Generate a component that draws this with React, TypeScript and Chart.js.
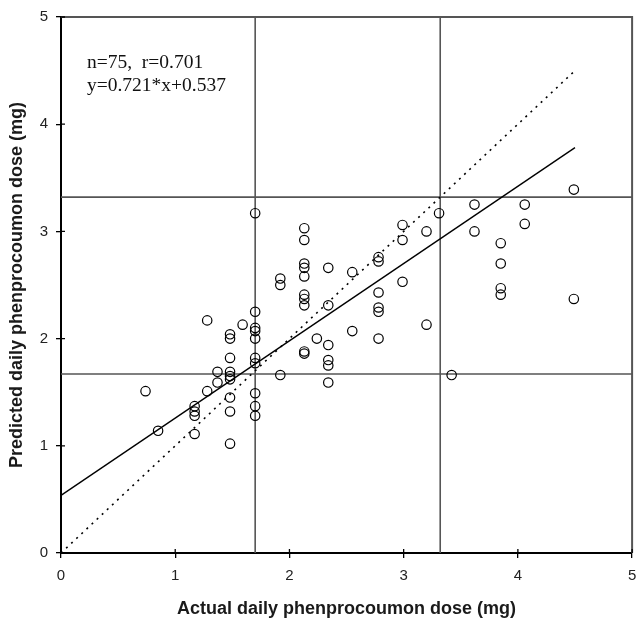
import React, { useEffect, useRef } from "react";
import { Chart, registerables } from "chart.js";

Chart.register(...registerables);

const actualDose = [
  0.74, 0.85,
  1.17, 1.17, 1.17, 1.17,
  1.28, 1.28,
  1.37, 1.37,
  1.48, 1.48, 1.48, 1.48, 1.48, 1.48, 1.48, 1.48, 1.48,
  1.59,
  1.70, 1.70, 1.70, 1.70, 1.70, 1.70, 1.70, 1.70, 1.70, 1.70,
  1.92, 1.92, 1.92,
  2.13, 2.13, 2.13, 2.13, 2.13, 2.13, 2.13, 2.13, 2.13, 2.13,
  2.24,
  2.34, 2.34, 2.34, 2.34, 2.34, 2.34,
  2.55, 2.55,
  2.78, 2.78, 2.78, 2.78, 2.78, 2.78,
  2.99, 2.99, 2.99,
  3.20, 3.20,
  3.31,
  3.42,
  3.62, 3.62,
  3.85, 3.85, 3.85, 3.85,
  4.06, 4.06,
  4.49, 4.49,
];
const predictedDose = [
  1.51, 1.14,
  1.37, 1.32, 1.28, 1.11,
  2.17, 1.51,
  1.69, 1.59,
  2.04, 2.0, 1.82, 1.69, 1.65, 1.62, 1.45, 1.32, 1.02,
  2.13,
  3.17, 2.25, 2.1, 2.07, 2.0, 1.82, 1.77, 1.49, 1.37, 1.28,
  2.56, 2.5, 1.66,
  3.03, 2.92, 2.7, 2.66, 2.58, 2.41, 2.37, 2.31, 1.88, 1.86,
  2.0,
  2.66, 2.31, 1.94, 1.8, 1.75, 1.59,
  2.62, 2.07,
  2.76, 2.72, 2.43, 2.29, 2.25, 2.0,
  3.06, 2.92, 2.53,
  3.0, 2.13,
  3.17,
  1.66,
  3.25, 3.0,
  2.89, 2.7, 2.47, 2.41,
  3.25, 3.07,
  3.39, 2.37,
];

// Regression and identity lines
const regSlope = 0.721;
const regIntercept = 0.537;
const lineRange = [0, 4.5];

// Cut-off lines
const verticalCutoffs = [1.7, 3.32];
const horizontalCutoffs = [1.67, 3.32];
const axisRange = [0, 5];

const tickValues = [0, 1, 2, 3, 4, 5];

const annotationLines = ["n=75,  r=0.701", "y=0.721*x+0.537"];

const xTitle = "Actual daily phenprocoumon dose (mg)";
const yTitle = "Predicted daily phenprocoumon dose (mg)";

export default function App() {
  const canvasRef = useRef<HTMLCanvasElement | null>(null);

  useEffect(() => {
    const canvas = canvasRef.current;
    if (!canvas) return;

    const cutoffColor = "#555555";

    const cutoffDatasets: any[] = [];
    verticalCutoffs.forEach((v) => {
      cutoffDatasets.push({
        type: "scatter",
        data: [
          { x: v, y: axisRange[0] },
          { x: v, y: axisRange[1] },
        ],
        showLine: true,
        borderColor: cutoffColor,
        borderWidth: 1.6,
        pointRadius: 0,
        fill: false,
      });
    });
    horizontalCutoffs.forEach((h) => {
      cutoffDatasets.push({
        type: "scatter",
        data: [
          { x: axisRange[0], y: h },
          { x: axisRange[1], y: h },
        ],
        showLine: true,
        borderColor: cutoffColor,
        borderWidth: 1.6,
        pointRadius: 0,
        fill: false,
      });
    });

    const overlayPlugin = {
      id: "overlay",
      afterDraw(chart: any) {
        const { ctx, chartArea } = chart;
        const xs = chart.scales.x;
        const ys = chart.scales.y;
        ctx.save();
        // top and right frame
        ctx.strokeStyle = "#555555";
        ctx.lineWidth = 2;
        ctx.beginPath();
        ctx.moveTo(chartArea.left, chartArea.top);
        ctx.lineTo(chartArea.right, chartArea.top);
        ctx.lineTo(chartArea.right, chartArea.bottom);
        ctx.stroke();
        // inner part of crossing ticks
        ctx.strokeStyle = "#000";
        ctx.lineWidth = 1.3;
        ctx.beginPath();
        tickValues.forEach((t) => {
          const px = xs.getPixelForValue(t);
          ctx.moveTo(px, chartArea.bottom);
          ctx.lineTo(px, chartArea.bottom - 4);
          const py = ys.getPixelForValue(t);
          ctx.moveTo(chartArea.left, py);
          ctx.lineTo(chartArea.left + 4, py);
        });
        ctx.stroke();
        // annotation
        ctx.fillStyle = "#111";
        ctx.font = '19.5px "Liberation Serif", "Times New Roman", serif';
        ctx.textAlign = "left";
        ctx.textBaseline = "middle";
        annotationLines.forEach((line, i) => {
          ctx.fillText(line, 87, 63 + i * 23);
        });
        ctx.restore();
      },
    };

    const chart = new Chart(canvas, {
      type: "scatter",
      data: {
        datasets: [
          {
            data: actualDose.map((x, i) => ({ x, y: predictedDose[i] })),
            pointRadius: 4.7,
            pointBorderWidth: 1.2,
            pointBorderColor: "#000",
            pointBackgroundColor: "rgba(255,255,255,0)",
            showLine: false,
          },
          {
            data: lineRange.map((x) => ({ x, y: regSlope * x + regIntercept })),
            showLine: true,
            borderColor: "#000",
            borderWidth: 1.4,
            pointRadius: 0,
          },
          {
            data: lineRange.map((x) => ({ x, y: x })),
            showLine: true,
            borderColor: "#000",
            borderWidth: 1.6,
            borderDash: [2, 5],
            pointRadius: 0,
          },
          ...cutoffDatasets,
        ],
      },
      options: {
        animation: false,
        responsive: false,
        events: [],
        layout: { padding: { top: 15, right: 3, left: 0, bottom: 0 } },
        plugins: {
          legend: { display: false },
          tooltip: { enabled: false },
        },
        scales: {
          x: {
            type: "linear",
            min: axisRange[0],
            max: axisRange[1],
            afterBuildTicks(scale: any) {
              scale.ticks = tickValues.map((v) => ({ value: v }));
            },
            afterFit(scale: any) {
              scale.height = 73;
              scale.paddingRight = 0;
              scale.paddingLeft = 0;
            },
            ticks: {
              color: "#222",
              font: { family: '"Liberation Sans", Arial, sans-serif', size: 15 },
              padding: 9,
              maxRotation: 0,
            },
            grid: {
              display: true,
              drawOnChartArea: false,
              drawTicks: true,
              tickLength: 5,
              color: "#000",
              lineWidth: 1.3,
            },
            border: { display: true, color: "#000", width: 2 },
            title: {
              display: true,
              text: xTitle,
              color: "#1a1a1a",
              font: {
                family: '"Liberation Sans", Arial, sans-serif',
                size: 18,
                weight: "bold",
                lineHeight: 1,
              },
              padding: { top: 0, bottom: 8 },
            },
          },
          y: {
            type: "linear",
            min: axisRange[0],
            max: axisRange[1],
            afterBuildTicks(scale: any) {
              scale.ticks = tickValues.map((v) => ({ value: v }));
            },
            afterFit(scale: any) {
              scale.width = 61;
            },
            ticks: {
              color: "#222",
              font: { family: '"Liberation Sans", Arial, sans-serif', size: 15 },
              padding: 8,
            },
            grid: {
              display: true,
              drawOnChartArea: false,
              drawTicks: true,
              tickLength: 5,
              color: "#000",
              lineWidth: 1.3,
            },
            border: { display: true, color: "#000", width: 2 },
            title: {
              display: true,
              text: yTitle,
              color: "#1a1a1a",
              font: {
                family: '"Liberation Sans", Arial, sans-serif',
                size: 18,
                weight: "bold",
                lineHeight: 1,
              },
              padding: { top: 8, bottom: 0 },
            },
          },
        },
      },
      plugins: [overlayPlugin],
    } as any);

    return () => {
      chart.destroy();
    };
  }, []);

  return (
    <div
      style={{
        position: "fixed",
        left: 0,
        top: 0,
        width: 638,
        height: 626,
        background: "#fff",
      }}
    >
      <canvas
        ref={canvasRef}
        width={638}
        height={626}
        style={{ display: "block", width: 638, height: 626 }}
      />
    </div>
  );
}
